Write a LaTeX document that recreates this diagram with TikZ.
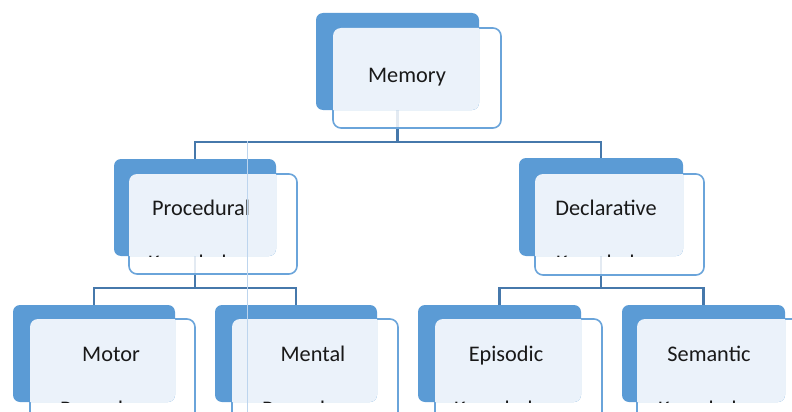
\documentclass[tikz,border=0pt]{standalone}
\usepackage{fontspec}
\setmainfont{Carlito}
\usetikzlibrary{fit,backgrounds}

\definecolor{boxdark}{HTML}{5B9BD5}
\definecolor{boxlight}{HTML}{EBF2FA}
\definecolor{boxline}{HTML}{6AA4DA}
\definecolor{linkc}{HTML}{4678AB}
\definecolor{seam}{HTML}{BDD5EE}

\tikzset{
  outerbox/.style={draw=boxline, line width=1.6pt, fill=white, fill opacity=0.85,
                   rounded corners=8pt, inner sep=0pt, outer sep=0pt},
  darkbox/.style={fill=boxdark, rounded corners=7pt, inner sep=0pt, outer sep=0pt},
  boxtext/.style={anchor=base, font=\fontsize{22.3}{27}\selectfont,
                  text=black!90, inner sep=0pt},
  link/.style={draw=linkc, line width=2.5pt},
}

% #1 name, #2/#3 corners of the dark tile, #4/#5 corners of the outlined tile,
% #6 label, #7 its base point, #8 second line, #9 its base point
\newcommand\memgroup[9]{%
  \node[outerbox, fit={(#4)(#5)}] (#1-o) {};
  \node[darkbox, fit={(#2)(#3)}] (#1) {};
  \begin{scope}
    \clip[rounded corners=7pt] (#1.south west) rectangle (#1.north east);
    \fill[boxlight, rounded corners=8pt] (#1-o.south west) rectangle (#1-o.north east);
    \node[boxtext] (#1-b) at (#9) {#8};
  \end{scope}
  \node[boxtext] (#1-t) at (#7) {#6};
}

\begin{document}
\begin{tikzpicture}[x=1pt, y=-1pt]
  \useasboundingbox (0,0) rectangle (792,412);
  \clip (0,0) rectangle (792,412);

  \memgroup{mem}{316,13}{479,110}{333,28}{501,128}{Memory}{407,82}{}{407,82}
  \memgroup{proc}{114,159}{276,256}{129,174}{297,274}{Procedural}{201,215}{Knowledge}{198,270.5}
  \memgroup{decl}{519,158}{683,256}{535,174}{704,275}{Declarative}{606,215}{Knowledge}{606,270.5}
  \memgroup{motor}{13,305}{175,402}{30,319}{195,420}{Motor}{111,361}{Procedures}{111,416}
  \memgroup{mental}{215,305}{377,402}{232,319}{398,420}{Mental}{313,361}{Procedures}{313,416}
  \memgroup{epi}{418,305}{581,402}{435,319}{602,420}{Episodic}{506,361}{Knowledge}{504,416}
  \memgroup{sem}{622,305}{785,402}{637,319}{804,420}{Semantic}{709,361}{Knowledge}{708,416}

  % thin seam running down through the left branch
  \coordinate (seamtop) at (247,141);
  \coordinate (seambot) at (247,412);
  \draw[seam, line width=1pt] (seamtop) -- (seambot);

  % tree connectors, kept behind the tiles
  \begin{pgfonlayer}{background}
    \draw[link] (mem.south) -- ++(0,32) -| (proc.north);
    \draw[link] (mem.south) -- ++(0,32) -| (decl.north);
    \draw[link] (proc.south) -- ++(0,32) -| (motor.north);
    \draw[link] (proc.south) -- ++(0,32) -| (mental.north);
    \draw[link] (decl.south) -- ++(0,32) -| (epi.north);
    \draw[link] (decl.south) -- ++(0,32) -| (sem.north);
  \end{pgfonlayer}
\end{tikzpicture}
\end{document}
